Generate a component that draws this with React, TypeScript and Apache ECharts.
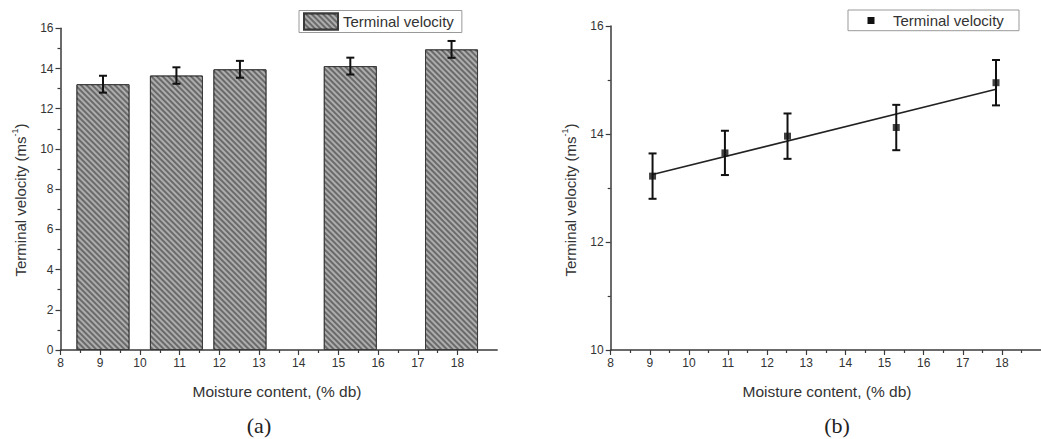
import React, { useEffect, useRef } from "react";
import * as echarts from "echarts";

// ---- data ----
const moisture = [9.07, 10.92, 12.52, 15.3, 17.85];
const velocity = [13.22, 13.65, 13.96, 14.12, 14.95];
const velocityErr = [0.42, 0.41, 0.42, 0.42, 0.42];
// linear fit endpoints
const fitX = [9.07, 17.85];
const fitY = [13.25, 14.83];
const xTicks = [8, 9, 10, 11, 12, 13, 14, 15, 16, 17, 18];
const leftYTicks = [0, 2, 4, 6, 8, 10, 12, 14, 16];
const rightYTicks = [10, 12, 14, 16];

const FONT = "'Liberation Sans', Arial, sans-serif";
const TXT = "#333";
const AX = "#3a3a3a";

function errRender(params: any, api: any) {
  const x = api.value(0);
  const y = api.value(1);
  const e = api.value(2);
  const t = api.coord([x, y + e]);
  const b = api.coord([x, y - e]);
  const cap = 4;
  const st = { stroke: "#111", lineWidth: 2 };
  return {
    type: "group",
    children: [
      { type: "line", shape: { x1: t[0], y1: t[1], x2: b[0], y2: b[1] }, style: st },
      { type: "line", shape: { x1: t[0] - cap, y1: t[1], x2: t[0] + cap, y2: t[1] }, style: st },
      { type: "line", shape: { x1: b[0] - cap, y1: b[1], x2: b[0] + cap, y2: b[1] }, style: st },
    ],
  };
}

function xAxisCfg(gridIndex: number) {
  return {
    type: "value",
    gridIndex,
    min: 8,
    max: 19,
    interval: 1,
    splitLine: { show: false },
    axisLine: { show: true, onZero: false, lineStyle: { color: AX, width: 1.5 } },
    axisTick: { show: true, inside: false, length: 5, lineStyle: { color: AX, width: 1.2 }, customValues: xTicks },
    minorTick: { show: true, splitNumber: 2, length: 3, lineStyle: { color: AX, width: 1.2 } },
    axisLabel: { color: TXT, fontSize: 12, fontFamily: FONT, margin: 7, customValues: xTicks },
  };
}

function yAxisCfg(gridIndex: number, min: number, max: number, ticks: number[]) {
  return {
    type: "value",
    gridIndex,
    min,
    max,
    interval: 2,
    splitLine: { show: false },
    axisLine: { show: true, onZero: false, lineStyle: { color: AX, width: 1.5 } },
    axisTick: { show: true, inside: false, length: 5, lineStyle: { color: AX, width: 1.2 } },
    minorTick: { show: true, splitNumber: 2, length: 3, lineStyle: { color: AX, width: 1.2 } },
    axisLabel: {
      color: TXT,
      fontSize: 12,
      fontFamily: FONT,
      margin: 7,
      formatter: (v: number) => (ticks.indexOf(v) >= 0 ? String(v) : ""),
    },
  };
}

export default function App() {
  const ref = useRef<HTMLDivElement>(null);
  useEffect(() => {
    if (!ref.current) return;
    const chart = echarts.init(ref.current, undefined, { renderer: "svg" });
    const pts = moisture.map((x, i) => [x, velocity[i]]);
    const errs = moisture.map((x, i) => [x, velocity[i], velocityErr[i]]);
    const fit = fitX.map((x, i) => [x, fitY[i]]);
    const yTitle = (cx: number) => ({
      type: "text",
      x: cx,
      y: 200,
      rotation: Math.PI / 2,
      style: {
        text: "Terminal velocity (ms{sup|-1})",
        fontSize: 15,
        fontFamily: FONT,
        fill: TXT,
        align: "center",
        verticalAlign: "middle",
        rich: { sup: { fontSize: 9, fontFamily: FONT, fill: TXT, padding: [0, 0, 10, 0] } },
      },
    });
    const xTitle = (cx: number) => ({
      type: "text",
      x: cx,
      y: 391,
      style: { text: "Moisture content, (% db)", fontSize: 15.5, fontFamily: FONT, fill: TXT, align: "center", verticalAlign: "middle" },
    });
    const panel = (cx: number, t: string) => ({
      type: "text",
      x: cx,
      y: 425,
      style: { text: t, fontSize: 22, fontFamily: "'Liberation Serif', 'Times New Roman', serif", fill: "#222", align: "center", verticalAlign: "middle" },
    });
    chart.setOption({
      animation: false,
      backgroundColor: "#fff",
      grid: [
        { left: 60.5, top: 28.3, width: 436.7, height: 321.7 },
        { left: 610.7, top: 26, width: 435.6, height: 324 },
      ],
      xAxis: [xAxisCfg(0), xAxisCfg(1)],
      yAxis: [yAxisCfg(0, 0, 16, leftYTicks), yAxisCfg(1, 10, 16, rightYTicks)],
      legend: [
        {
          data: [{ name: "TV bars", icon: "rect" }],
          formatter: () => "Terminal velocity",
          left: 299,
          top: 10.5,
          itemWidth: 34,
          itemHeight: 16,
          padding: [2, 8, 2, 4],
          borderColor: "#999",
          borderWidth: 1,
          textStyle: { fontSize: 15, fontFamily: FONT, color: TXT },
        },
      ],
      graphic: [
        {
          type: "rect",
          shape: { x: 848, y: 10, width: 171, height: 20.7 },
          style: { fill: "#fff", stroke: "#999", lineWidth: 1 },
        },
        { type: "rect", shape: { x: 867.5, y: 17, width: 7, height: 7 }, style: { fill: "#111" } },
        {
          type: "text",
          x: 893,
          y: 20.5,
          style: { text: "Terminal velocity", fontSize: 15, fontFamily: FONT, fill: TXT, verticalAlign: "middle" },
        },
        yTitle(20),
        yTitle(570),
        xTitle(277),
        xTitle(827),
        panel(259, "(a)"),
        panel(837, "(b)"),
      ],
      series: [
        {
          name: "TV bars",
          type: "bar",
          xAxisIndex: 0,
          yAxisIndex: 0,
          barWidth: 53,
          data: pts,
          itemStyle: {
            color: "#6a6a6a",
            borderColor: "#3a3a3a",
            borderWidth: 1,
            decal: {
              symbol: "rect",
              symbolSize: 1,
              color: "rgba(190,190,190,0.8)",
              dashArrayX: [1, 0],
              dashArrayY: [1.5, 2],
              rotation: Math.PI / 4,
            },
          },
          z: 2,
        },
        {
          type: "custom",
          xAxisIndex: 0,
          yAxisIndex: 0,
          data: errs,
          encode: { x: 0, y: 1 },
          renderItem: errRender,
          z: 5,
        },
        {
          type: "line",
          xAxisIndex: 1,
          yAxisIndex: 1,
          data: fit,
          showSymbol: false,
          symbol: "none",
          lineStyle: { color: "#222", width: 1.6 },
          z: 3,
        },
        {
          type: "custom",
          xAxisIndex: 1,
          yAxisIndex: 1,
          data: errs,
          encode: { x: 0, y: 1 },
          renderItem: errRender,
          z: 4,
        },
        {
          name: "TV points",
          type: "scatter",
          xAxisIndex: 1,
          yAxisIndex: 1,
          data: pts,
          symbol: "rect",
          symbolSize: 7,
          itemStyle: { color: "#111" },
          z: 6,
        },
      ],
    });
    return () => chart.dispose();
  }, []);
  return (
    <div
      ref={ref}
      style={{ position: "absolute", left: 0, top: 0, width: 1041, height: 439, background: "#fff" }}
    />
  );
}
